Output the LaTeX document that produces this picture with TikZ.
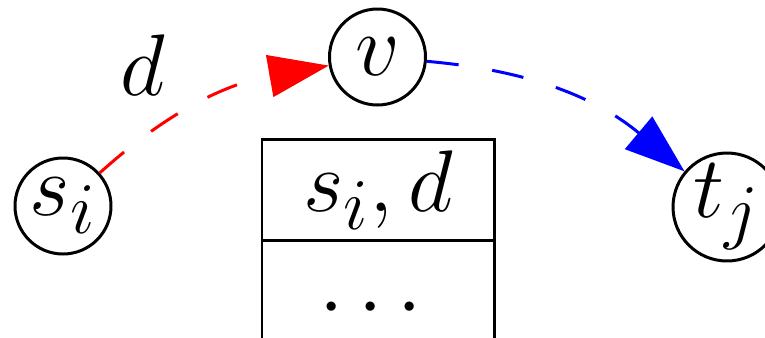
\documentclass[tikz,border=0pt]{standalone}
\usepackage{amsmath, amssymb}
\usepackage{tikz}
\usetikzlibrary{arrows.meta,positioning}

\begin{document}
\begin{tikzpicture}[
    vertex/.style={circle, draw, line width=0.85pt, minimum size=0.96cm, inner sep=0pt, font=\Huge},
    cell/.style={rectangle, draw, line width=0.85pt, outer sep=0pt, minimum width=2.32cm, minimum height=1.0cm, font=\Huge},
    flow/.style={line width=0.85pt, dash pattern=on 0.32cm off 0.34cm, -{Triangle[length=0.6cm, width=0.42cm]}}
]
\useasboundingbox (0,0) rectangle (7.65,3.37);

% Vertices
\node (si) at (0.63,1.31) [vertex] {$s_i$};
\node (v) at (3.775,2.80) [vertex] {$v$};
\node (tj) at (7.27,1.30) [vertex] {$t_j$};

% Table
\node (head) at (3.78,1.47) [cell] {$s_i, d$};
\node (rest) [cell, below=0pt of head, minimum height=1.36cm] {$\cdots$};

% Paths
\draw [flow, red] (si) to[out=42, in=190] (v);
\draw [flow, blue] (v) to[out=-5, in=140] (tj);

% Label
\node (dlabel) at (1.43,2.72) [font=\Huge] {$d$};

\end{tikzpicture}
\end{document}
